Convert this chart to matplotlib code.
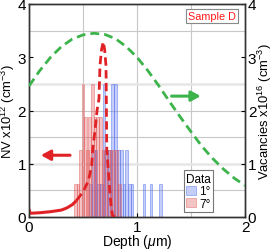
import numpy as np
import matplotlib
matplotlib.use("Agg")
import matplotlib.pyplot as plt

plt.rcParams['font.family'] = ['Liberation Sans', 'DejaVu Sans']
plt.rcParams['mathtext.fontset'] = 'custom'
plt.rcParams['mathtext.rm'] = 'Liberation Sans'
plt.rcParams['mathtext.it'] = 'Liberation Sans:italic'

# ---- data ----
bin_width = 0.025
count_scale = 0.625  # NV units per count

blue_centers = [0.57, 0.595, 0.62, 0.645, 0.67, 0.695, 0.72, 0.745, 0.775, 0.80,
                0.83, 0.855, 0.88, 0.905, 0.93, 0.955, 1.065, 1.13, 1.22]
blue_counts = [1, 2, 2, 1, 1, 4, 2, 2, 4, 4, 2, 2, 1, 2, 1, 1, 1, 1, 1]

red_centers = [0.43, 0.455, 0.48, 0.50, 0.52, 0.54, 0.56, 0.585, 0.61, 0.635,
               0.66, 0.685, 0.71, 0.735, 0.76, 0.785, 0.81, 0.835]
red_counts = [1, 1, 2, 4, 3, 2, 3, 4, 3, 3, 3, 2, 2, 2, 2, 2, 2, 1]

nv_depth = [0.0, 0.01, 0.1, 0.2, 0.3, 0.35, 0.4, 0.44, 0.5, 0.55, 0.58, 0.59,
            0.61, 0.63, 0.648, 0.657, 0.672, 0.688, 0.70, 0.713, 0.716, 0.72,
            0.744, 0.76, 0.775, 0.80]
nv_conc = [0.15, 0.07, 0.08, 0.10, 0.13, 0.17, 0.23, 0.31, 0.47, 0.68, 0.96, 1.28,
           1.6, 2.0, 2.22, 2.84, 3.15, 3.29, 3.15, 2.84, 2.2, 1.28,
           0.59, 0.2, 0.02, 0.0]

vac_depth = [0.0, 0.1, 0.2, 0.3, 0.4, 0.5, 0.6, 0.7, 0.8, 0.9, 1.0, 1.1, 1.2,
             1.3, 1.4, 1.5, 1.6, 1.7, 1.8, 1.9, 2.0]
vac_conc = [2.46, 2.75, 3.0, 3.2, 3.34, 3.42, 3.45, 3.43, 3.35, 3.2, 3.0, 2.75,
            2.47, 2.17, 1.88, 1.6, 1.33, 1.1, 0.9, 0.73, 0.59]

legend_title = "Data"
legend_labels = ["1°", "7°"]

# ---- figure ----
fig = plt.figure(figsize=(2.75, 2.51), dpi=100)
ax = fig.add_axes([29/275, 1-218/251, (245-29)/275, (218-5)/251])

# grid lines
for g in [0.5, 1.0, 1.5]:
    ax.axvline(g, color='#c8c8c8', lw=0.8, zorder=0)
for g in [0.5, 1.5, 2.0, 3.5]:
    ax.axhline(g, color='#c8c8c8', lw=0.8, zorder=0)
for g in [1.0, 2.5]:
    ax.axhline(g, color='#e6e6e6', lw=1.8, zorder=0)

blue_h = [c * count_scale for c in blue_counts]
red_h = [c * count_scale for c in red_counts]
ax.bar(blue_centers, blue_h, width=bin_width,
       facecolor=(0.35, 0.45, 0.92, 0.35), edgecolor=(0.35, 0.45, 0.92, 0.55),
       lw=0.6, zorder=2, label=legend_labels[0])
ax.bar(red_centers, red_h, width=bin_width,
       facecolor=(0.88, 0.3, 0.3, 0.33), edgecolor=(0.88, 0.3, 0.3, 0.45),
       lw=0.6, zorder=2, label=legend_labels[1])

nv_d = np.array(nv_depth)
nv_c = np.array(nv_conc)
red = '#e02226'
m1 = nv_d <= 0.44
ax.plot(nv_d[m1], nv_c[m1], color=red, lw=2.2, zorder=4, solid_capstyle='butt')
m2 = nv_d >= 0.44
ax.plot(nv_d[m2], nv_c[m2], color=red, lw=2.0, ls=(0, (3, 1.6)), zorder=4)

ax.set_xlim(0, 2)
ax.set_ylim(0, 4)
ax.set_xticks([0, 1, 2])
ax.set_yticks([0, 1, 2, 3, 4])
ax.tick_params(direction='in', length=3, labelsize=11, pad=2)
ax.set_xlabel(r"Depth ($\mu$m)", fontsize=10, va='top')
ax.xaxis.set_label_coords(0.5, -0.072)
ax.set_ylabel(r"NV x10$^{12}$ (cm$^{-3}$)", fontsize=9.4, va='center')
ax.yaxis.set_label_coords(-0.097, 0.5)
for s in ax.spines.values():
    s.set_color('#333333')
    s.set_linewidth(1.0)

ax2 = ax.twinx()
ax2.set_position(ax.get_position())
ax2.plot(vac_depth, vac_conc, color='#3cb44b', lw=2.0, ls=(0, (3.2, 1.8)), zorder=3)
ax2.set_ylim(0, 4)
ax2.set_yticks([0, 1, 2, 3, 4])
ax2.tick_params(direction='in', length=3, labelsize=11, pad=2)
ax2.set_ylabel(r"Vacancies x10$^{16}$ (cm$^{-3}$)", fontsize=9.4, va='center',
               rotation=90)
ax2.yaxis.set_label_coords(1.092, 0.5)
for s in ax2.spines.values():
    s.set_color('#333333')
    s.set_linewidth(1.0)

# arrows
ax.annotate("", xy=(0.11, 1.16), xytext=(0.38, 1.16),
            arrowprops=dict(arrowstyle='-|>,head_length=0.55,head_width=0.3',
                            color=red, lw=2.2, shrinkA=0, shrinkB=0), zorder=5)
ax.annotate("", xy=(1.59, 2.27), xytext=(1.32, 2.27),
            arrowprops=dict(arrowstyle='-|>,head_length=0.55,head_width=0.3',
                            color='#3cb44b', lw=2.2, shrinkA=0, shrinkB=0), zorder=5)

ax2.text(0.847, 0.944, "Sample D", transform=ax.transAxes, color='#ff1a1a',
         fontsize=7.8, ha='center', va='center', zorder=6,
         bbox=dict(facecolor='white', edgecolor='#888888', boxstyle='square,pad=0.15', lw=0.8))

handles, labels = ax.get_legend_handles_labels()
leg = ax2.legend(handles, labels, title=legend_title, loc='lower right',
                 bbox_to_anchor=(0.852, 0.023), bbox_transform=ax.transAxes,
                 fontsize=8.5, title_fontsize=8.5, frameon=True, fancybox=False,
                 handlelength=0.8, handleheight=0.8, handletextpad=0.3,
                 borderpad=0.2, labelspacing=0.05, borderaxespad=0)
leg.get_frame().set_edgecolor('#777777')
leg.get_frame().set_linewidth(0.8)
leg.get_frame().set_alpha(1)

fig.savefig("out.png", dpi=100)
